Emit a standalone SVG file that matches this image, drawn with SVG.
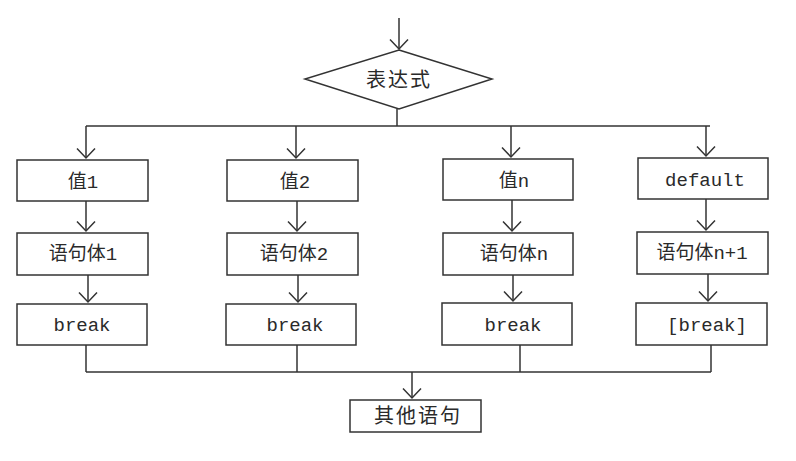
<svg xmlns="http://www.w3.org/2000/svg" width="796" height="461" viewBox="0 0 796 461">
<style>
.box{fill:#fff;stroke:#333;stroke-width:1.5}
.ln{fill:none;stroke:#333;stroke-width:1.5}
.ar{marker-end:url(#ah)}
.t{font-family:"Liberation Mono","Noto Sans CJK SC",monospace;font-size:19px;fill:#2a2a2a;text-anchor:middle}
.c{font-family:"Noto Sans CJK SC",sans-serif;font-size:20px;fill:#2a2a2a;text-anchor:middle;letter-spacing:2px}
</style>
<defs>
<marker id="ah" viewBox="0 0 13 20" refX="11" refY="10" markerWidth="13" markerHeight="20" markerUnits="userSpaceOnUse" orient="auto">
<path d="M1.5,1 L11,10 L1.5,19" fill="none" stroke="#333" stroke-width="1.5"/>
</marker>
</defs>
<g id="connectors" class="ln">
<line class="ar" x1="399" y1="18" x2="399" y2="49"/>
<line x1="397" y1="109" x2="397" y2="126"/>
<line x1="86" y1="126" x2="710" y2="126"/>
<line class="ar" x1="86" y1="126" x2="86" y2="158"/>
<line class="ar" x1="296" y1="126" x2="296" y2="158"/>
<line class="ar" x1="511" y1="126" x2="511" y2="157"/>
<line class="ar" x1="706" y1="126" x2="706" y2="156"/>
<line class="ar" x1="86" y1="201" x2="86" y2="231"/>
<line class="ar" x1="297" y1="201" x2="297" y2="231"/>
<line class="ar" x1="512" y1="200" x2="512" y2="231"/>
<line class="ar" x1="706" y1="199" x2="706" y2="230"/>
<line class="ar" x1="88" y1="275" x2="88" y2="302"/>
<line class="ar" x1="298" y1="275" x2="298" y2="302"/>
<line class="ar" x1="513" y1="275" x2="513" y2="301"/>
<line class="ar" x1="708" y1="274" x2="708" y2="301"/>
<line x1="86" y1="345" x2="86" y2="372"/>
<line x1="297" y1="345" x2="297" y2="372"/>
<line x1="520" y1="345" x2="520" y2="372"/>
<line x1="711" y1="345" x2="711" y2="372"/>
<line x1="86" y1="372" x2="711" y2="372"/>
<line class="ar" x1="412" y1="372" x2="412" y2="398"/>
</g>
<g id="n-expr"><polygon class="box" points="399,50 492,79 399,109 305,79"/><text class="c" x="399" y="87">表达式</text></g>
<g id="n-v1"><rect class="box" x="17" y="160" width="131" height="41"/><text class="t" x="83" y="188">值1</text></g>
<g id="n-v2"><rect class="box" x="227" y="160" width="131" height="41"/><text class="t" x="295" y="188">值2</text></g>
<g id="n-vn"><rect class="box" x="443" y="159" width="130" height="41"/><text class="t" x="514" y="187">值n</text></g>
<g id="n-def"><rect class="box" x="638" y="158" width="130" height="41"/><text class="t" x="705" y="186">default</text></g>
<g id="n-s1"><rect class="box" x="17" y="233" width="131" height="42"/><text class="t" x="83" y="260">语句体1</text></g>
<g id="n-s2"><rect class="box" x="227" y="233" width="131" height="42"/><text class="t" x="294" y="260">语句体2</text></g>
<g id="n-sn"><rect class="box" x="443" y="233" width="130" height="42"/><text class="t" x="514" y="260">语句体n</text></g>
<g id="n-sn1"><rect class="box" x="637" y="232" width="131" height="42"/><text class="t" x="702" y="259">语句体n+1</text></g>
<g id="n-b1"><rect class="box" x="17" y="304" width="130" height="41"/><text class="t" x="82" y="331">break</text></g>
<g id="n-b2"><rect class="box" x="226" y="304" width="130" height="41"/><text class="t" x="295" y="331">break</text></g>
<g id="n-bn"><rect class="box" x="442" y="303" width="130" height="42"/><text class="t" x="513" y="331">break</text></g>
<g id="n-bd"><rect class="box" x="636" y="303" width="131" height="42"/><text class="t" x="707" y="331">[break]</text></g>
<g id="n-other"><rect class="box" x="350" y="400" width="131" height="32"/><text class="c" x="418" y="423">其他语句</text></g>
</svg>
